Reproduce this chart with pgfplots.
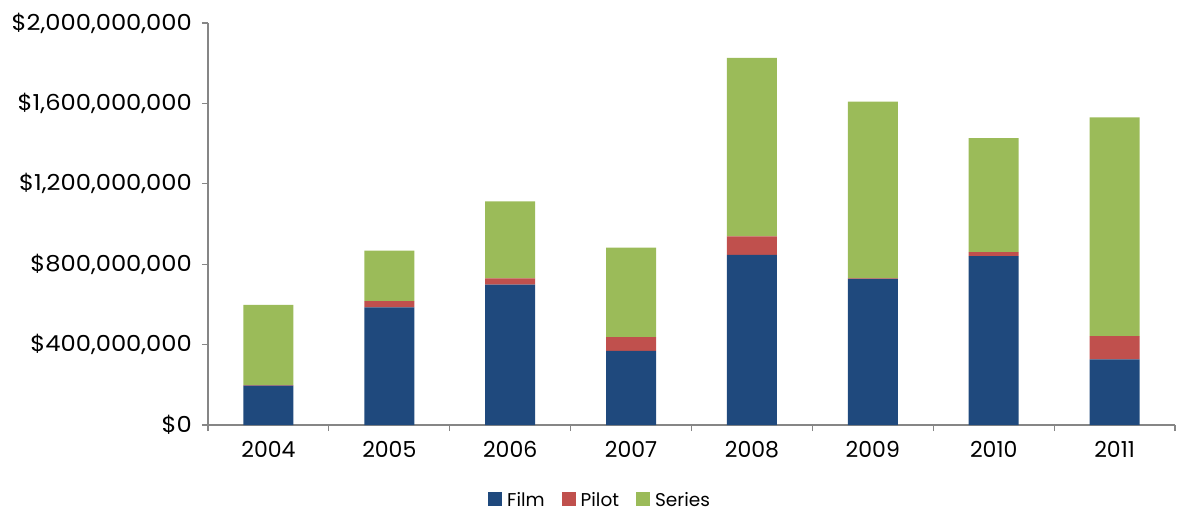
\documentclass[border=0pt]{standalone}
\usepackage{pgfplots}
\pgfplotsset{compat=1.18}
\usepackage{fontspec}
\setmainfont{Poppins}
\newfontfamily\ylabfont{Poppins}[FakeStretch=1.1]
\definecolor{film}{HTML}{1F497D}
\definecolor{pilot}{HTML}{C0504D}
\definecolor{series}{HTML}{9BBB59}
\definecolor{axisgray}{HTML}{868686}
\begin{document}
\begin{tikzpicture}
\begin{axis}[
  name=ax,
  scale only axis,
  width=967pt, height=402pt,
  ybar stacked,
  bar width=50pt,
  xmin=-0.5, xmax=7.5,
  ymin=0, ymax=2000,
  xtick={0,...,7},
  xticklabels={2004,2005,2006,2007,2008,2009,2010,2011},
  minor xtick={-0.5,0.5,...,7.5},
  ytick={0,400,800,1200,1600,2000},
  yticklabels={{\$0},{\$400,000,000},{\$800,000,000},{\$1,200,000,000},{\$1,600,000,000},{\$2,000,000,000}},
  axis x line=bottom, axis y line=left,
  axis line style={-, axisgray, line width=1.2pt},
  tick align=outside,
  major tick length=6pt, minor tick length=6pt,
  tick style={axisgray, line width=1.2pt},
  major x tick style={draw=none},
  /pgf/number format/assume math mode=true,
  tick label style={font=\fontsize{22}{26}\selectfont, text=black},
  yticklabel style={inner sep=2pt, xshift=-8pt, font=\ylabfont\fontsize{22}{26}\selectfont},
  xticklabel style={inner sep=2pt, yshift=-8pt},
  legend style={at={(0.405,-0.186)}, anchor=center, draw=none, inner sep=0pt,
    font=\fontsize{18.5}{22}\selectfont, legend columns=3,
    nodes={inner sep=1pt},
    /tikz/every odd column/.append style={column sep=4pt},
    /tikz/every even column/.append style={column sep=16pt}},
  legend image code/.code={\fill[#1] (0pt,-6pt) rectangle (14pt,8pt);},
  legend cell align=left,
]
\addplot[fill=film, draw=none] coordinates {(0,196) (1,585) (2,699) (3,369) (4,847) (5,727) (6,840) (7,326)};
\addplot[fill=pilot, draw=none] coordinates {(0,2) (1,31) (2,31) (3,68) (4,92) (5,2) (6,20) (7,116)};
\addplot[fill=series, draw=none] coordinates {(0,400) (1,252) (2,382) (3,446) (4,888) (5,880) (6,567) (7,1088)};
\legend{Film,Pilot,Series}
\end{axis}
\pgfresetboundingbox
\path[use as bounding box] ([shift={(-208pt,-86pt)}]ax.south west) rectangle ([shift={(8pt,23pt)}]ax.north east);
\end{tikzpicture}
\end{document}
